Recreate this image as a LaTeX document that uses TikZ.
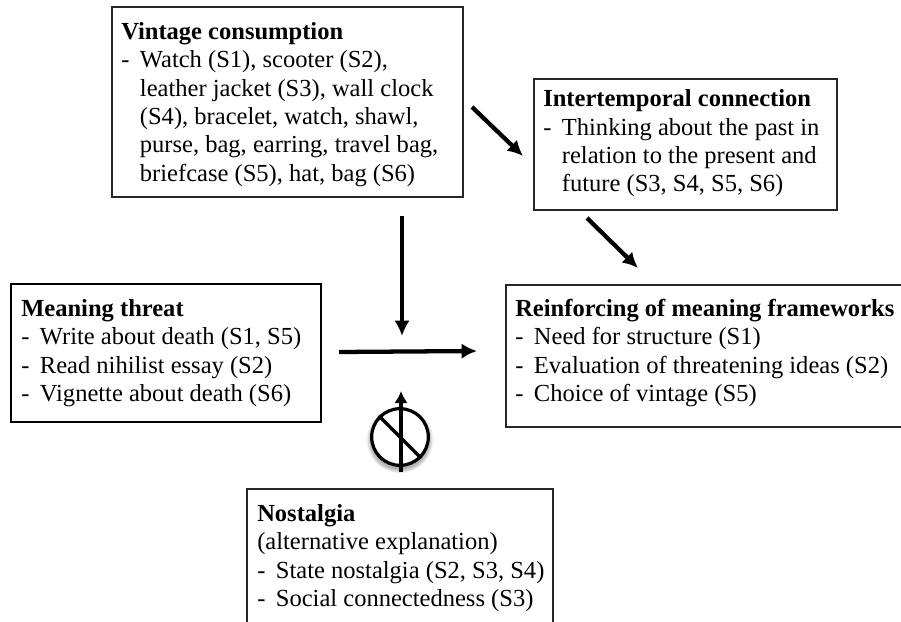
\documentclass[tikz,border=0pt]{standalone}
\usepackage{fontspec}
\setmainfont{Liberation Serif}
\usetikzlibrary{arrows.meta}

\tikzset{
	txtbox/.style={draw=black!85, line width=0.9pt},
	boldbox/.style={draw, line width=1.6pt},
	txt/.style={anchor=north west, align=left, font=\fontsize{18.4}{21.3}\selectfont, inner sep=0pt},
	bigarrow/.style={-{Latex[length=11.5pt,width=11.5pt]}, line width=3.2pt},
	thinarrow/.style={-{Latex[length=9pt,width=10pt]}, line width=2.3pt},
}
\newcommand{\dashitem}{\makebox[14pt][l]{-}}
\newcommand{\hangitem}{\hspace*{14pt}}

\begin{document}
\begin{tikzpicture}[x=0.75pt, y=-0.75pt]
	\useasboundingbox (0, 0) rectangle (901, 622);
	\fill[white] (0, 0) rectangle (901, 622);

	% boxes
	\draw[txtbox] (112, 7) rectangle (463, 197);
	\node[txt] at (121, 22) (vintage) {\textbf{Vintage consumption}\\
		\dashitem Watch (S1), scooter (S2),\\
		\hangitem leather jacket (S3), wall clock\\
		\hangitem (S4), bracelet, watch, shawl,\\
		\hangitem purse, bag, earring, travel bag,\\
		\hangitem briefcase (S5), hat, bag (S6)};

	\draw[txtbox] (534, 79) rectangle (837, 210);
	\node[txt] at (543, 89.5) (connection) {\textbf{Intertemporal connection}\\
		\dashitem Thinking about the past in\\
		\hangitem relation to the present and\\
		\hangitem future (S3, S4, S5, S6)};

	\draw[boldbox] (11, 284) rectangle (321, 422);
	\node[txt] at (21, 299) (threat) {\textbf{Meaning threat}\\
		\dashitem Write about death (S1, S5)\\
		\dashitem Read nihilist essay (S2)\\
		\dashitem Vignette about death (S6)};

	\draw[txtbox] (901, 285) -- (506, 285) -- (506, 427) -- (901, 427);
	\node[txt] at (515, 299) (frameworks) {\textbf{Reinforcing of meaning frameworks}\\
		\dashitem Need for structure (S1)\\
		\dashitem Evaluation of threatening ideas (S2)\\
		\dashitem Choice of vintage (S5)};

	\draw[txtbox] (247, 622) -- (247, 489) -- (553, 489) -- (553, 622);
	\node[txt] at (257, 504) (nostalgia) {\textbf{Nostalgia}\\
		(alternative explanation)\\
		\dashitem State nostalgia (S2, S3, S4)\\
		\dashitem Social connectedness (S3)};

	% arrow ends
	\coordinate (a_1) at (472, 107);
	\coordinate (a_2) at (523, 156);
	\coordinate (b_1) at (587, 218);
	\coordinate (b_2) at (638, 268);
	\coordinate (c_1) at (402, 216);
	\coordinate (c_2) at (402, 336);
	\coordinate (d_1) at (339, 352);
	\coordinate (d_2) at (477, 351);
	\coordinate (e_1) at (401, 472);
	\coordinate (e_2) at (401, 391);

	\draw[bigarrow] (a_1) -- (a_2);
	\draw[bigarrow] (b_1) -- (b_2);
	\draw[bigarrow] (c_1) -- (c_2);
	\draw[bigarrow] (d_1) -- (d_2);

	% no sign
	\foreach \r in {29, 30, 31, 32, 33}
		\fill[black, opacity=0.07] (400, 440) circle[radius=\r*0.75pt];
	\node[circle, draw, line width=2.4pt, minimum size=42.5pt, inner sep=0pt, fill=white] at (400, 437) (no) {};
	\draw[line width=2.4pt] (no.135) -- (no.-45);
	\draw[thinarrow] (e_1) -- (e_2);
\end{tikzpicture}
\end{document}
